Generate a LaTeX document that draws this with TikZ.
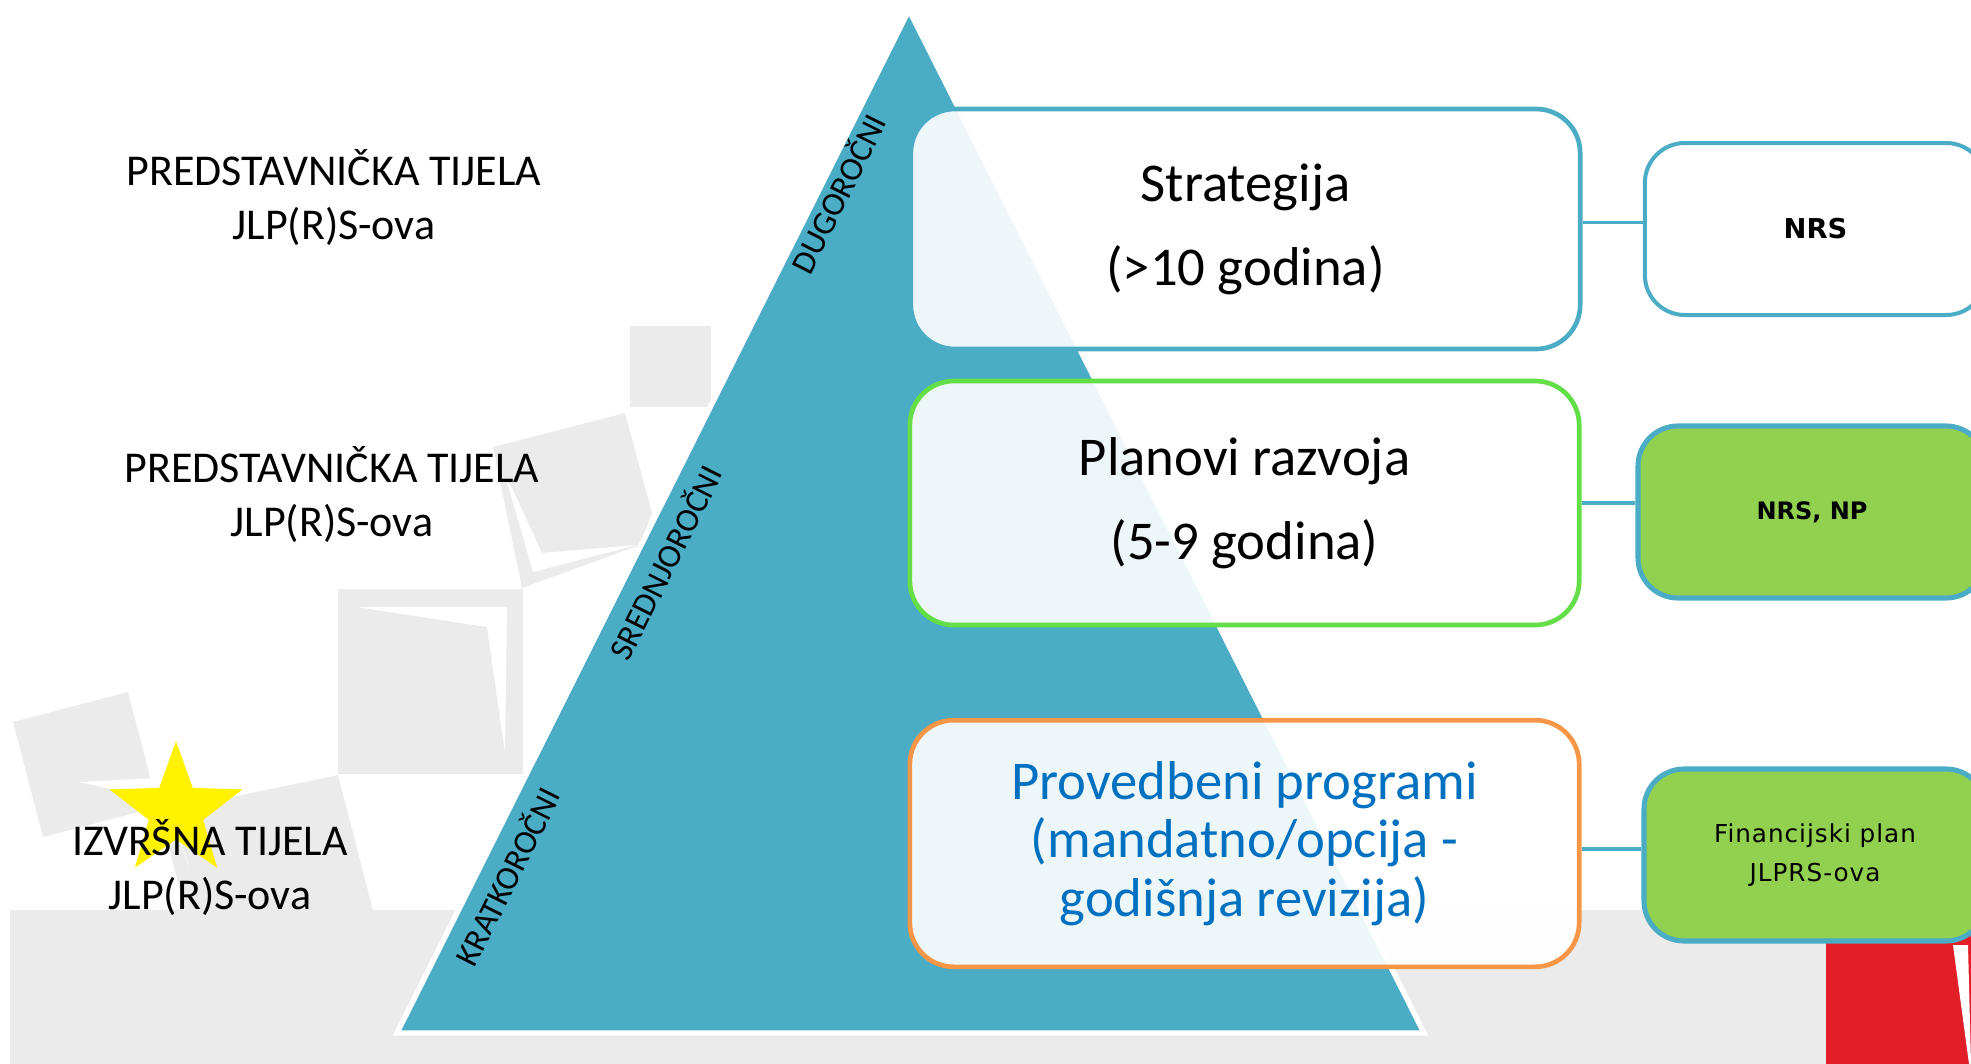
\documentclass[tikz,border=0pt]{standalone}
\usepackage{fontspec}
\setmainfont{Carlito}
\newfontfamily\srcfont{DejaVu Sans}
\newfontfamily\srcfontls[LetterSpace=4]{DejaVu Sans}
\usepackage{tikz}
\usetikzlibrary{shapes.geometric}

\definecolor{pyrBlue}{RGB}{75,172,198}
\definecolor{planGreen}{RGB}{99,222,70}
\definecolor{progOrange}{RGB}{247,150,70}
\definecolor{progText}{RGB}{0,112,192}
\definecolor{srcGreen}{RGB}{146,208,80}
\definecolor{starYellow}{RGB}{255,242,0}
\definecolor{decoGray}{RGB}{235,235,235}
\definecolor{cornerRed}{RGB}{226,30,38}

\tikzset{
  leftlbl/.style={align=center, inner sep=0.75pt, font=\fontsize{33}{40.5}\selectfont},
  sidelbl/.style={rotate=63.4, inner sep=0.75pt, font=\fontsize{25}{30}\selectfont},
  tierbox/.style={draw, rounded corners=33pt, line width=3.5pt, fill=white, fill opacity=0.9,
    text opacity=1, align=center, minimum width=502pt, inner sep=0pt},
  srcbox/.style={draw=pyrBlue, rounded corners=30pt, align=center, minimum height=129pt, inner sep=0pt},
  conn/.style={draw=pyrBlue, line width=2.6pt},
  deco/.style={fill=decoGray}
}

\begin{document}
\begin{tikzpicture}[x=0.75pt,y=0.75pt,yscale=-1,xscale=1]
\useasboundingbox (0,0) rectangle (1971,1064);
%Background shapes
\fill[deco] (630,326) rectangle (711,407) ;
\fill[deco] (493,447) -- (625,413) -- (652,513) -- (640,545) -- (522,588) -- cycle ;
\fill[white] (507,482) -- (533,572) -- (637,545) -- (542,553) -- (512,488) -- cycle ;
\fill[deco] (338,589) rectangle (523,774) ;
\fill[white] (357,607) -- (507,607) -- (505,753) -- (487,627) -- cycle ;
\fill[deco] (13,722) -- (128,692) -- (158,807) -- (43,837) -- cycle ;
\fill[deco] (160,812) -- (338,775) -- (373,910) -- (185,910) -- cycle ;
\fill[white] (78,782) -- (160,778) -- (190,870) -- (165,800) -- cycle ;
\fill[deco] (10,910) rectangle (1971,1064) ;
%Shape: Star
\draw (176,811) node (zvijezda) [star, star points=5, star point ratio=2.45, fill=starYellow, inner sep=0pt, minimum size=105pt] {} ;

% Text Node
\draw (334,198) node (pred1) [leftlbl] {PREDSTAVNIČKA TIJELA\\JLP(R)S-ova};
% Text Node
\draw (332,495) node (pred2) [leftlbl] {PREDSTAVNIČKA TIJELA\\JLP(R)S-ova};
% Text Node
\draw (210,868) node (izvr) [leftlbl] {IZVRŠNA TIJELA\\JLP(R)S-ova};

%Shape: Triangle
\draw[draw=white, line width=4pt, line join=miter, fill=pyrBlue] (909,10) -- (1424,1033) -- (397,1033) -- cycle ;

% Text Node
\draw (837,193) node (dugo) [sidelbl] {DUGOROČNI};
% Text Node
\draw (664,562) node (sred) [sidelbl] {SREDNJOROČNI};
% Text Node
\draw (506,876) node (krat) [sidelbl] {KRATKOROČNI};

%Red corner
\fill[cornerRed] (1826,930) rectangle (1971,1064) ;
\fill[white] (1953,945) -- (1968,945) -- (1971,1064) -- (1969,1064) -- cycle ;

%Tier boxes
\draw (1245.5,229) node (strat) [tierbox, draw=pyrBlue, minimum height=180pt, font=\fontsize{41}{63}\selectfont] {Strategija\\(>10 godina)};
\draw (1244.5,503) node (plan) [tierbox, draw=planGreen, minimum height=183pt, font=\fontsize{41}{63}\selectfont] {Planovi razvoja\\(5-9 godina)};
\draw (1244.5,843.5) node (prog) [tierbox, draw=progOrange, minimum height=185pt, text=progText, font=\fontsize{41}{44}\selectfont] {Provedbeni programi\\(mandatno/opcija -\\godišnja revizija)};

%Source boxes
\draw (1815.5,229) node (nrs) [srcbox, fill=white, line width=3pt, minimum width=256pt, font=\srcfont\bfseries\fontsize{20.5}{24}\selectfont] {NRS};
\draw (1812,512) node (nrsnp) [srcbox, fill=srcGreen, line width=3.8pt, minimum width=261pt, font=\srcfont\bfseries\fontsize{18}{22}\selectfont] {NRS, NP};
\draw (1815,855) node (finplan) [srcbox, fill=srcGreen, line width=3.8pt, minimum width=256.5pt, font=\srcfontls\fontsize{18.5}{29}\selectfont] {Financijski plan\\JLPRS-ova};

%Straight Lines
\draw[conn] ([yshift=-5pt]strat.east) -- ([yshift=-5pt]strat.east -| nrs.west) ;
\draw[conn] (plan.east) -- (plan.east -| nrsnp.west) ;
\draw[conn] ([yshift=4pt]prog.east) -- ([yshift=4pt]prog.east -| finplan.west) ;
\end{tikzpicture}
\end{document}
